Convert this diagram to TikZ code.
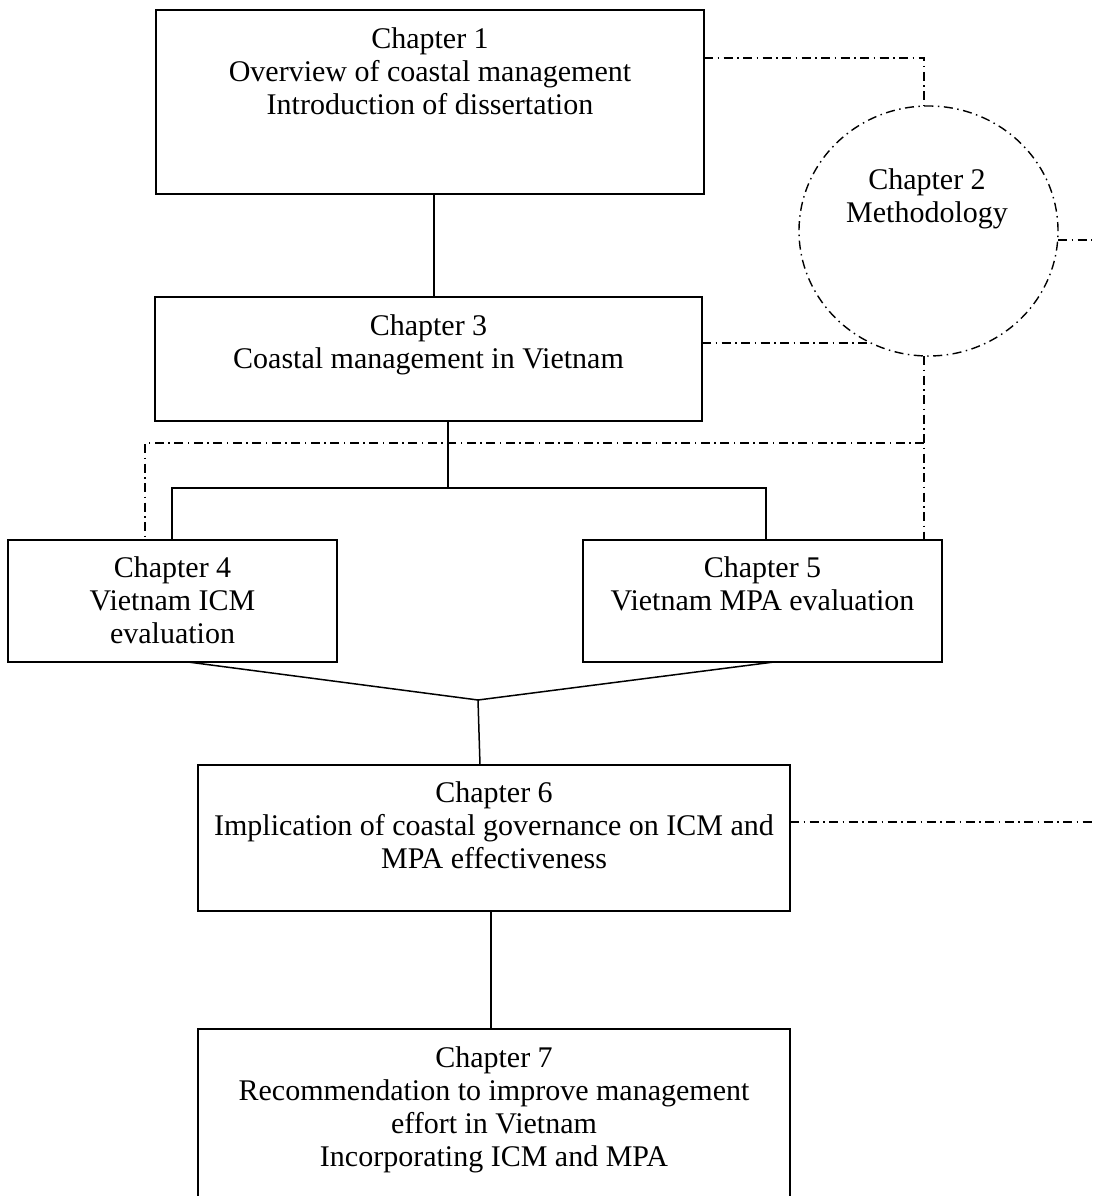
\documentclass[tikz,border=0pt]{standalone}
\usepackage{fontspec}
\setmainfont{Liberation Serif}
\usetikzlibrary{shapes.geometric}
\newcommand\chfont{\fontsize{30}{33}\selectfont}
\tikzset{
  box/.style={draw, rectangle, line width=1.8pt, inner sep=0pt, outer sep=0pt},
  lbl/.style={anchor=north, align=center, inner sep=0pt, font=\chfont},
  txt/.style={align=center, inner sep=0pt, font=\chfont},
  link/.style={line width=1.5pt},
  meth/.style={line width=1.4pt, dash pattern=on 9pt off 4.5pt on 1.5pt off 4.5pt},
}
\begin{document}
\begin{tikzpicture}[x=1pt,y=-1pt]
\useasboundingbox (0,0) rectangle (1092,1196);

% chapter boxes
\node[box, minimum width=548pt, minimum height=184pt] (ch1) at (430,102) {};
\node[box, minimum width=547pt, minimum height=124pt] (ch3) at (428.5,359) {};
\node[box, minimum width=329pt, minimum height=122pt] (ch4) at (172.5,601) {};
\node[box, minimum width=359pt, minimum height=122pt] (ch5) at (762.5,601) {};
\node[box, minimum width=592pt, minimum height=146pt] (ch6) at (494,838) {};
\node[box, minimum width=592pt, minimum height=181pt] (ch7) at (494,1119.5) {};
% methodology circle
\node[draw, ellipse, meth, minimum width=259pt, minimum height=250pt, inner sep=0pt, outer sep=0pt] (ch2) at (928.5,231) {};

% box texts
\node[lbl] (t1) at ([yshift=-17.5pt]ch1.north) {Chapter 1\\Overview of coastal management\\Introduction of dissertation};
\node[txt] (t2) at (927,199) {Chapter 2\\Methodology};
\node[lbl] (t3) at ([yshift=-17.5pt]ch3.north) {Chapter 3\\Coastal management in Vietnam};
\node[lbl] (t4) at ([yshift=-16pt]ch4.north) {Chapter 4\\Vietnam ICM\\evaluation};
\node[lbl] (t5) at ([yshift=-16pt]ch5.north) {Chapter 5\\Vietnam MPA evaluation};
\node[lbl] (t6) at ([yshift=-16.5pt]ch6.north) {Chapter 6\\Implication of coastal governance on ICM and\\MPA effectiveness};
\node[lbl] (t7) at ([yshift=-17.5pt]ch7.north) {Chapter 7\\Recommendation to improve management\\effort in Vietnam\\Incorporating ICM and MPA};

% solid structure links
\coordinate (k13) at (434,0);
\draw[link] (ch1.south -| k13) -- (ch3.north -| k13);
\coordinate (bm) at (448,488);
\coordinate (bl) at (172,488);
\coordinate (br) at (766,488);
\draw[link] (ch3.south -| bm) -- (bm);
\draw[link] (bl |- ch4.north) -- (bl) -- (br) -- (br |- ch5.north);
\coordinate (ap) at (478,700);
\draw[link] ([xshift=15.5pt]ch4.south) -- (ap) -- ([xshift=11.5pt]ch5.south);
\draw[link] (ap) -- ([xshift=-14pt]ch6.north);
\draw[link] ([xshift=-3pt]ch6.south) -- ([xshift=-3pt]ch7.north);

% methodology links
\coordinate (m1) at (924,58);
\draw[meth] (ch1.east |- m1) -- (m1) -- (m1 |- ch2.north);
\coordinate (m2) at (1092,240);
\draw[meth] (ch2.east |- m2) -- (m2);
\draw[meth] (ch3.east |- ch2.243) -- (ch2.243);
\coordinate (jn) at (924,443);
\coordinate (jw) at (145,443);
\draw[meth] (jn |- ch2.south) -- (jn |- ch5.north);
\draw[meth] (jn) -- (jw) -- (jw |- ch4.north);
\coordinate (m6) at (1092,822);
\draw[meth] (ch6.east |- m6) -- (m6);
\end{tikzpicture}
\end{document}
